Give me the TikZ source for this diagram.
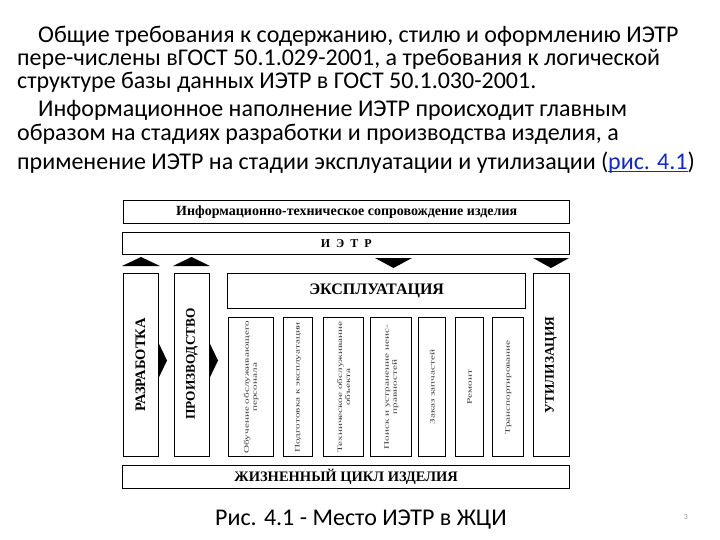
\documentclass[tikz,border=0pt]{standalone}
\usepackage{fontspec}
\setmainfont{Carlito}
\newfontfamily\diag{Liberation Serif}
\definecolor{linkblue}{RGB}{20,40,200}
\definecolor{smalltxt}{RGB}{60,60,60}
\newcommand\ulinktext[1]{\setbox0\hbox{#1}\rlap{\color{linkblue}\rule[-2.5pt]{\wd0}{1.1pt}}\box0}
\begin{document}
\begin{tikzpicture}[x=1pt,y=-1pt,
  para/.style={anchor=base west,inner sep=0pt,font=\fontsize{24}{28}\selectfont},
  box/.style={draw=black,line width=1.4pt,fill=white,inner sep=0pt,anchor=north west},
  btext/.style={font=\diag\bfseries\fontsize{#1}{#1}\selectfont,inner sep=0pt},
  vtext/.style={font=\diag\bfseries\fontsize{#1}{#1}\selectfont,inner sep=0pt,rotate=90},
  stext/.style={font=\diag\fontsize{7}{8}\selectfont,inner sep=0pt,rotate=90,align=center,text=smalltxt},
  tri/.style={fill=black}]
\useasboundingbox (0,0) rectangle (720,540);
\fill[white] (0,0) rectangle (720,540);

% paragraph text
\node[para] (l1) at (38,43) {Общие требования к содержанию, стилю и оформлению ИЭТР};
\node[para] (l2) at (17,66) {пере-числены вГОСТ 50.1.029-2001, а требования к логической};
\node[para] (l3) at (17,89) {структуре базы данных ИЭТР в ГОСТ 50.1.030-2001.};
\node[para] (l4) at (38,117) {Информационное наполнение ИЭТР происходит главным};
\node[para] (l5) at (17,141) {образом на стадиях разработки и производства изделия, а};
\node[para] (l6) at (17,170) {применение ИЭТР на стадии эксплуатации и утилизации (\ulinktext{\textcolor{linkblue}{рис. 4.1}})};

% diagram boxes
\node[box,minimum width=446pt,minimum height=23pt] (info) at (123,200) {};
\node[btext=14] at (info.center) {Информационно-техническое сопровождение изделия};
\node[box,minimum width=447pt,minimum height=22pt] (ietr) at (122,232) {};
\node[btext=12] at (ietr.center) {И\ \ Э\ \ Т\ \ Р};

\node[box,minimum width=35pt,minimum height=183pt] (razr) at (123,273) {};
\node[box,minimum width=35pt,minimum height=183pt] (proizv) at (174,273) {};
\node[box,minimum width=36pt,minimum height=183pt] (util) at (533,273) {};
\node[vtext=14.5] at (140.5,365) {РАЗРАБОТКА};
\node[vtext=13.3] at (192,364) {ПРОИЗВОДСТВО};
\node[vtext=13.3] at (551,365) {УТИЛИЗАЦИЯ};

\node[box,minimum width=298pt,minimum height=35pt] (expl) at (227,273) {};
\node[btext=16] at (expl.center) {ЭКСПЛУАТАЦИЯ};

\node[box,minimum width=45pt,minimum height=139pt] (s1) at (228,317) {};
\node[box,minimum width=29pt,minimum height=139pt] (s2) at (283,317) {};
\node[box,minimum width=40pt,minimum height=139pt] (s3) at (323,317) {};
\node[box,minimum width=41pt,minimum height=139pt] (s4) at (370,317) {};
\node[box,minimum width=27pt,minimum height=139pt] (s5) at (418,317) {};
\node[box,minimum width=28pt,minimum height=139pt] (s6) at (455,317) {};
\node[box,minimum width=31pt,minimum height=139pt] (s7) at (492,317) {};
\node[stext] at (s1.center) {\scalebox{1.6}[1]{Обучение обслуживающего}\\\scalebox{1.6}[1]{персонала}};
\node[stext] at (s2.center) {\scalebox{1.6}[1]{Подготовка к эксплуатации}};
\node[stext] at (s3.center) {\scalebox{1.6}[1]{Техническое обслуживание}\\\scalebox{1.6}[1]{объекта}};
\node[stext] at (s4.center) {\scalebox{1.6}[1]{Поиск и устранение неис-}\\\scalebox{1.6}[1]{правностей}};
\node[stext] at (s5.center) {\scalebox{1.6}[1]{Заказ запчастей}};
\node[stext] at (s6.center) {\scalebox{1.6}[1]{Ремонт}};
\node[stext] at (s7.center) {\scalebox{1.6}[1]{Транспортирование}};

\node[box,minimum width=447pt,minimum height=23pt] (life) at (122,465) {};
\node[btext=14.5] at (life.center) {ЖИЗНЕННЫЙ ЦИКЛ ИЗДЕЛИЯ};

% arrows
\fill[tri] (122,266) -- (160,266) -- (141,257) -- cycle;
\fill[tri] (173,266) -- (210,266) -- (191.5,257) -- cycle;
\fill[tri] (375,258) -- (412,258) -- (393.5,268) -- cycle;
\fill[tri] (533,258) -- (569,258) -- (551,268) -- cycle;
\fill[tri] (158.6,343) -- (158.6,378) -- (167,360.5) -- cycle;
\fill[tri] (209.6,343) -- (209.6,378) -- (218,360.5) -- cycle;

% caption
\node[para] (cap) at (215,525) {Рис. 4.1 - Место ИЭТР в ЖЦИ};
\node[font=\fontsize{8}{8}\selectfont,text=black!40,inner sep=0pt] (pg) at (686,517) {3};
\end{tikzpicture}
\end{document}
